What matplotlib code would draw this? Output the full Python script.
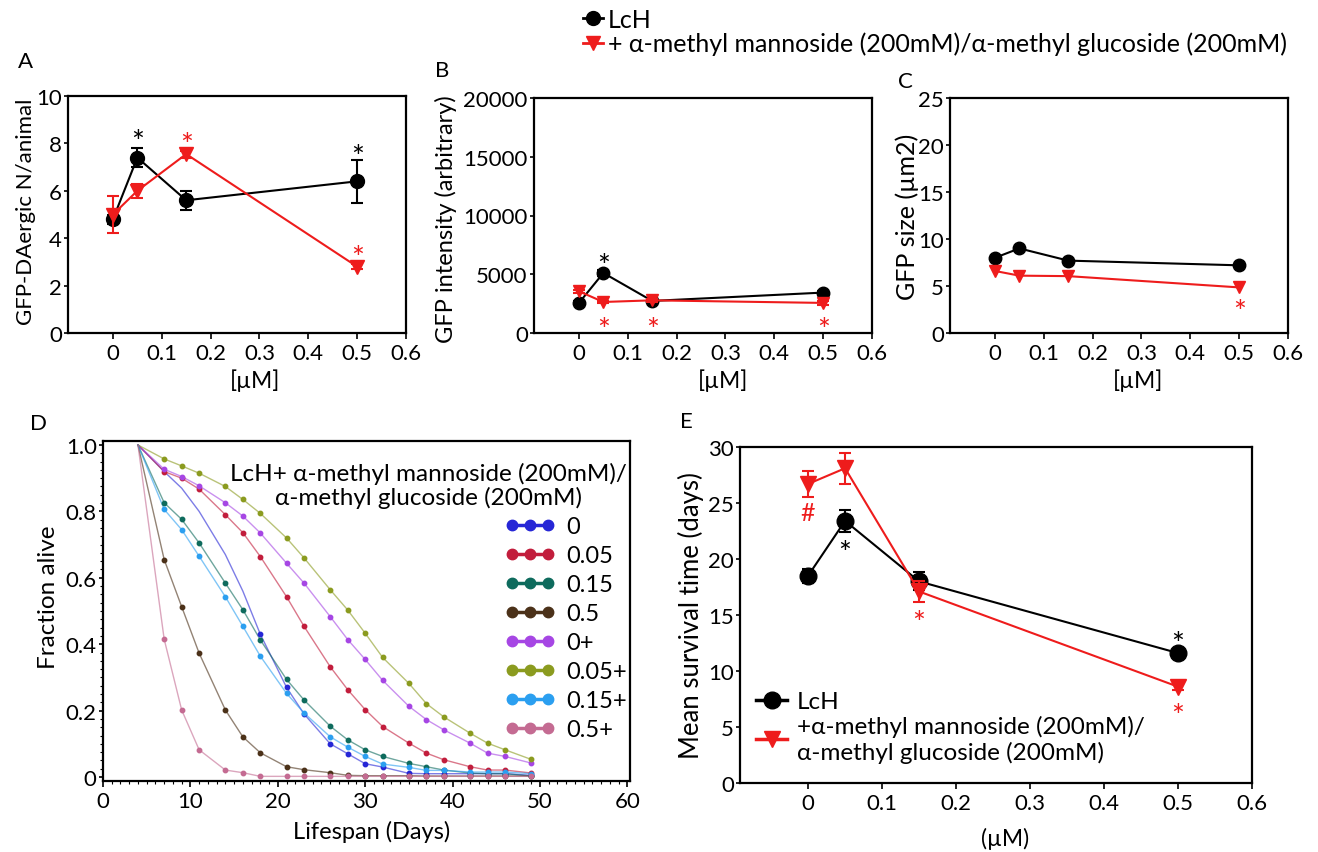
import matplotlib
matplotlib.use('Agg')
import matplotlib.pyplot as plt
from matplotlib.lines import Line2D
from matplotlib.ticker import MultipleLocator

plt.rcParams['font.family'] = ['Lato', 'DejaVu Sans']

#########################################################
### Data

conc = [0, 0.05, 0.15, 0.5]
conc_ticks = [0, 0.1, 0.2, 0.3, 0.4, 0.5, 0.6]
conc_ticklabels = ['0', '0.1', '0.2', '0.3', '0.4', '0.5', '0.6']

# A - GFP-DAergic neurons per animal
a_lch = [4.8, 7.4, 5.6, 6.4]
a_lch_err = [0.2, 0.4, 0.4, 0.9]
a_mm = [5.0, 6.0, 7.55, 2.8]
a_mm_err = [0.8, 0.3, 0.15, 0.1]
a_marks = [(0.05, 8.4, '*', 'k'), (0.15, 8.3, '*', 'r'),
           (0.5, 7.8, '*', 'k'), (0.5, 3.5, '*', 'r')]

# B - GFP intensity
b_lch = [2560, 5110, 2730, 3440]
b_lch_err = [150, 250, 120, 150]
b_mm = [3550, 2640, 2780, 2560]
b_mm_err = [150, 100, 100, 200]
b_marks = [(0.05, 6400, '*', 'k'), (0.05, 940, '*', 'r'),
           (0.15, 940, '*', 'r'), (0.5, 940, '*', 'r')]

# C - GFP size
c_lch = [8.0, 9.0, 7.7, 7.2]
c_mm = [6.6, 6.1, 6.05, 4.85]
c_marks = [(0.5, 3.1, '*', 'r')]

# D - survival curves
days = [4, 7, 9, 11, 14, 16, 18, 21, 23, 26, 28, 30, 32, 35, 37, 39, 42, 44, 46, 49]
surv_0 = [1.0, 0.92, 0.87, 0.80, 0.67, 0.56, 0.43, 0.27, 0.19, 0.10, 0.07, 0.04,
          0.03, 0.011, 0.01, 0.01, 0.01, 0.01, 0.01, 0.005]
surv_005 = [1.0, 0.92, 0.90, 0.867, 0.79, 0.736, 0.664, 0.543, 0.454, 0.332, 0.263, 0.203,
            0.152, 0.102, 0.072, 0.052, 0.031, 0.021, 0.021, 0.012]
surv_015 = [1.0, 0.826, 0.776, 0.705, 0.584, 0.504, 0.413, 0.294, 0.232, 0.153, 0.112, 0.082,
            0.062, 0.041, 0.031, 0.021, 0.012, 0.01, 0.01, 0.003]
surv_05 = [1.0, 0.655, 0.513, 0.373, 0.202, 0.121, 0.073, 0.031, 0.022, 0.013, 0.005, 0.004,
           0.004, 0.004, 0.003, 0.003, 0.003, 0.003, 0.003, 0.003]
surv_0p = [1.0, 0.927, 0.905, 0.877, 0.826, 0.786, 0.735, 0.644, 0.584, 0.483, 0.414, 0.354,
           0.291, 0.213, 0.173, 0.142, 0.102, 0.072, 0.062, 0.042]
surv_005p = [1.0, 0.958, 0.937, 0.915, 0.875, 0.836, 0.794, 0.72, 0.66, 0.564, 0.503, 0.433,
             0.36, 0.282, 0.221, 0.181, 0.132, 0.102, 0.082, 0.053]
surv_015p = [1.0, 0.806, 0.745, 0.665, 0.543, 0.454, 0.364, 0.252, 0.193, 0.121, 0.09, 0.062,
             0.039, 0.029, 0.02, 0.02, 0.015, 0.015, 0.015, 0.01]
surv_05p = [1.0, 0.415, 0.202, 0.082, 0.021, 0.013, 0.002, 0.002, 0.002, 0.002, 0.002, 0.002,
            0.002, 0.002, 0.002, 0.002, 0.002, 0.002, 0.002, 0.002]
surv_labels = ['0', '0.05', '0.15', '0.5', '0+', '0.05+', '0.15+', '0.5+']
surv_colors = ['#2626d6', '#c21d3c', '#0e6b5d', '#4b3119',
               '#a646e4', '#8b9b1f', '#2b9ff0', '#c46b92']

# E - mean survival time
e_lch = [18.5, 23.4, 18.0, 11.6]
e_lch_err = [0.6, 0.95, 0.8, 0.3]
e_mm = [26.7, 28.1, 17.1, 8.6]
e_mm_err = [1.2, 1.4, 0.9, 0.3]
e_marks = [(0, 24.3, '#', 'r'), (0.05, 21.3, '*', 'k'), (0.15, 15.0, '*', 'r'),
           (0.5, 13.2, '*', 'k'), (0.5, 6.7, '*', 'r')]

mm_label = '+ α-methyl mannoside (200mM)/α-methyl glucoside (200mM)'

#########################################################
### Helpers

RED = '#ee1c1c'
TICK_FS = 16


def style_ticks(ax):
    for s in ax.spines.values():
        s.set_linewidth(1.6)
    ax.tick_params(axis='x', direction='out', length=4, width=1.2, labelsize=TICK_FS, pad=3)
    ax.tick_params(axis='y', direction='out', length=3, width=1.2, labelsize=TICK_FS, pad=1.5)


def style_conc_axes(ax, ylim, yticks):
    ax.set_xlim(-0.092, 0.6)
    ax.set_xticks(conc_ticks)
    ax.set_xticklabels(conc_ticklabels)
    ax.set_ylim(*ylim)
    ax.set_yticks(yticks)
    style_ticks(ax)


def draw_pair(ax, lch, mm, lch_err=None, mm_err=None, ms=10):
    ax.errorbar(conc, lch, yerr=lch_err, color='k', marker='o', ms=ms, lw=1.5,
                elinewidth=1.5, capsize=4, capthick=1.5, zorder=3)
    ax.errorbar(conc, mm, yerr=mm_err, color=RED, marker='v', ms=ms, lw=1.5,
                elinewidth=1.5, capsize=4, capthick=1.5, zorder=4)


def add_marks(ax, marks, fs=22):
    # glyph centre sits this far above the baseline (fraction of font size)
    lift = {'*': 0.57, '#': 0.36}
    for x, y, t, c in marks:
        size = fs if t == '*' else 18
        ax.annotate(t, (x, y), xytext=(0, -lift[t] * size),
                    textcoords='offset points', ha='center', va='baseline',
                    fontsize=size, color=RED if c == 'r' else 'k')


def set_labels(ax, xlabel, xpos, xfs, ylabel, ypos, yfs):
    ax.set_xlabel(xlabel, fontsize=xfs)
    ax.xaxis.set_label_coords(*xpos)
    ax.set_ylabel(ylabel, fontsize=yfs)
    ax.yaxis.set_label_coords(*ypos)


#########################################################
### Figure

W, H = 1318, 853
fig = plt.figure(figsize=(W / 100, H / 100), dpi=100)


def px_axes(l, t, r, b):
    return fig.add_axes([l / W, 1 - b / H, (r - l) / W, (b - t) / H])


# A
axA = px_axes(68, 97, 406, 334)
draw_pair(axA, a_lch, a_mm, a_lch_err, a_mm_err, ms=10)
style_conc_axes(axA, (0, 10), [0, 2, 4, 6, 8, 10])
set_labels(axA, '[µM]', (0.553, -0.15), 16.5,
           'GFP-DAergic N/animal', (-0.095, 0.515), 16)
add_marks(axA, a_marks)

# B
axB = px_axes(534, 99, 872, 334)
draw_pair(axB, b_lch, b_mm, b_lch_err, b_mm_err, ms=9)
style_conc_axes(axB, (0, 20000), [0, 5000, 10000, 15000, 20000])
set_labels(axB, '[µM]', (0.56, -0.15), 16.5,
           'GFP intensity (arbitrary)', (-0.228, 0.49), 17)
add_marks(axB, b_marks)

# C
axC = px_axes(950, 99, 1288, 334)
draw_pair(axC, c_lch, c_mm, ms=9)
style_conc_axes(axC, (0, 25), [0, 5, 10, 15, 20, 25])
set_labels(axC, '[µM]', (0.556, -0.15), 16.5,
           'GFP size (µm2)', (-0.092, 0.50), 18)
add_marks(axC, c_marks)

# D
axD = px_axes(103, 442, 630, 782)
surv_all = [surv_0, surv_005, surv_015, surv_05, surv_0p, surv_005p, surv_015p, surv_05p]
for i, (vals, col) in enumerate(zip(surv_all, surv_colors)):
    axD.plot(days, vals, color=col, lw=1.0, alpha=0.6, zorder=2)
    every = slice(6, None) if i == 0 else slice(1, None)
    axD.plot(days, vals, ls='none', marker='o', ms=3.2, color=col,
             markevery=every, zorder=3)
axD.set_xlim(0, 60.3)
axD.set_ylim(-0.012, 1.012)
axD.set_xticks([0, 10, 20, 30, 40, 50, 60])
axD.set_yticks([0, 0.2, 0.4, 0.6, 0.8, 1.0])
axD.set_yticklabels(['0', '0.2', '0.4', '0.6', '0.8', '1.0'])
axD.xaxis.set_minor_locator(MultipleLocator(1))
axD.yaxis.set_minor_locator(MultipleLocator(0.025))
style_ticks(axD)
axD.tick_params(which='minor', direction='out', length=2.5, width=0.8)
set_labels(axD, 'Lifespan (Days)', (0.51, -0.115), 17,
           'Fraction alive', (-0.083, 0.544), 17.5)
axD.text(0.617, 0.872, 'LcH+ α-methyl mannoside (200mM)/\nα-methyl glucoside (200mM)',
         transform=axD.transAxes, ha='center', va='center', fontsize=17.5,
         linespacing=1.1)
d_handles = [Line2D([0], [0], color=c, lw=2.5, marker='o', ms=7.5) for c in surv_colors]
axD.legend(d_handles, surv_labels, loc='upper left', bbox_to_anchor=(0.763, 0.78),
           frameon=False, numpoints=3, handlelength=2.1, handletextpad=0.5,
           labelspacing=0.34, borderpad=0, borderaxespad=0, fontsize=17)

# E
axE = px_axes(740, 448, 1252, 784)
draw_pair(axE, e_lch, e_mm, e_lch_err, e_mm_err, ms=12)
style_conc_axes(axE, (0, 30), [0, 5, 10, 15, 20, 25, 30])
set_labels(axE, '(µM)', (0.518, -0.13), 16.5,
           'Mean survival time (days)', (-0.07, 0.50), 18.5)
add_marks(axE, e_marks)
e_handles = [Line2D([0], [0], color='k', lw=2.5, marker='o', ms=12),
             Line2D([0], [0], color=RED, lw=2.5, marker='v', ms=12)]
axE.legend(e_handles, ['LcH', '+α-methyl mannoside (200mM)/\nα-methyl glucoside (200mM)'],
           loc='lower left', bbox_to_anchor=(0.031, 0.06), frameon=False, numpoints=1,
           handlelength=1.3, handletextpad=0.4, labelspacing=0.12, borderpad=0,
           borderaxespad=0, fontsize=17.5)

# top legend
top_handles = [Line2D([0], [0], color='k', lw=2, marker='o', ms=10),
               Line2D([0], [0], color=RED, lw=2, marker='v', ms=10)]
fig.legend(top_handles, ['LcH', mm_label], loc='upper left',
           bbox_to_anchor=(570 / W, 1 + 4 / H), frameon=False, numpoints=1,
           handlelength=0.8, handletextpad=0.2, labelspacing=0.05, borderpad=0,
           fontsize=18)

# panel letters
for letter, (x, y) in zip('ABCDE', [(25, 62), (442, 71), (905, 82), (38, 424), (686, 422)]):
    fig.text(x / W, 1 - y / H, letter, ha='center', va='center', fontsize=16)

fig.savefig('out.png', dpi=100)
